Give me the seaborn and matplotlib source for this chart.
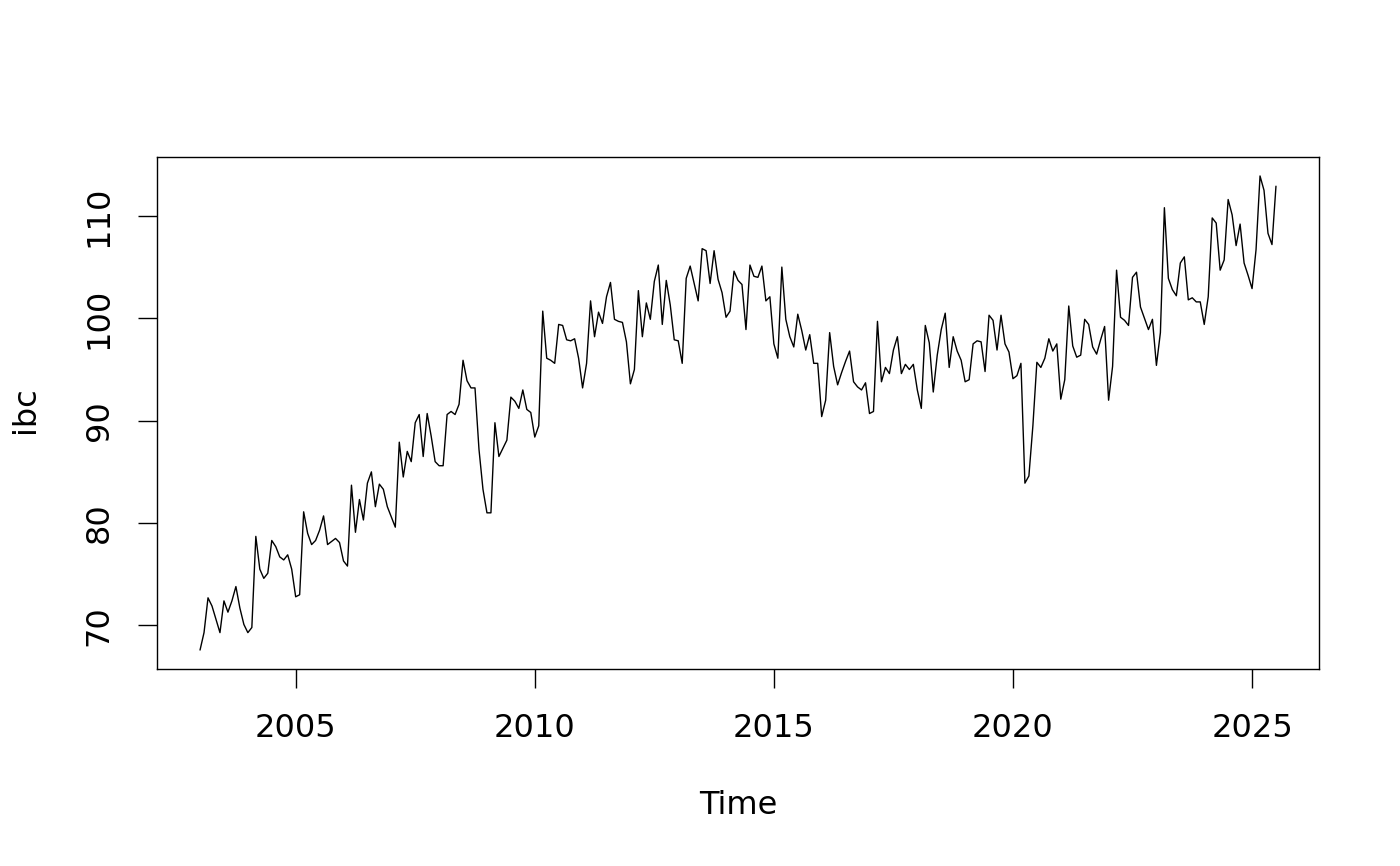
import matplotlib

matplotlib.use("Agg")

import matplotlib.pyplot as plt
import numpy as np
import pandas as pd
import seaborn as sns

# monthly series, starts Jan 2003
START_YEAR = 2003
FREQ = 12

ibc = [
    67.6, 69.3, 72.7, 71.9, 70.6, 69.3, 72.4, 71.3, 72.4, 73.8, 71.7, 70.1,
    69.3, 69.8, 78.7, 75.5, 74.6, 75.1, 78.3, 77.7, 76.7, 76.4, 76.9, 75.5,
    72.8, 73.0, 81.1, 79.0, 77.9, 78.3, 79.3, 80.7, 77.9, 78.2, 78.5, 78.1,
    76.3, 75.8, 83.7, 79.1, 82.3, 80.3, 83.9, 85.0, 81.6, 83.8, 83.3, 81.6,
    80.6, 79.6, 87.9, 84.5, 87.0, 86.0, 89.8, 90.6, 86.5, 90.7, 88.5, 86.0,
    85.6, 85.6, 90.6, 90.9, 90.6, 91.6, 95.9, 93.9, 93.2, 93.2, 87.2, 83.3,
    81.0, 81.0, 89.8, 86.5, 87.3, 88.1, 92.3, 91.9, 91.2, 93.0, 91.1, 90.8,
    88.4, 89.5, 100.7, 96.1, 95.9, 95.6, 99.4, 99.3, 97.9, 97.8, 98.0, 96.1,
    93.2, 95.6, 101.7, 98.2, 100.6, 99.5, 102.1, 103.5, 99.9, 99.7, 99.6, 97.7,
    93.6, 95.0, 102.7, 98.2, 101.5, 99.9, 103.6, 105.2, 99.4, 103.7, 101.3, 97.9,
    97.8, 95.6, 103.9, 105.1, 103.4, 101.7, 106.8, 106.6, 103.4, 106.6, 103.8, 102.5,
    100.1, 100.7, 104.6, 103.7, 103.3, 98.9, 105.2, 104.1, 104.0, 105.1, 101.7, 102.1,
    97.5, 96.1, 105.0, 99.9, 98.2, 97.2, 100.4, 98.8, 96.9, 98.4, 95.6, 95.6,
    90.4, 92.0, 98.6, 95.3, 93.5, 94.7, 95.8, 96.8, 93.8, 93.3, 93.0, 93.7,
    90.7, 90.9, 99.7, 93.8, 95.2, 94.6, 96.9, 98.2, 94.6, 95.5, 95.0, 95.5,
    93.0, 91.2, 99.3, 97.6, 92.8, 96.4, 98.9, 100.5, 95.2, 98.2, 96.8, 95.9,
    93.8, 94.0, 97.5, 97.8, 97.7, 94.8, 100.3, 99.8, 96.9, 100.3, 97.5, 96.7,
    94.1, 94.4, 95.6, 83.9, 84.6, 89.5, 95.7, 95.2, 96.1, 98.0, 96.8, 97.5,
    92.1, 94.0, 101.2, 97.3, 96.2, 96.4, 99.9, 99.4, 97.2, 96.5, 97.9, 99.2,
    92.0, 95.3, 104.7, 100.1, 99.8, 99.3, 104.0, 104.5, 101.1, 100.0, 98.9, 99.9,
    95.4, 98.6, 110.8, 103.9, 102.8, 102.2, 105.4, 106.0, 101.8, 102.0, 101.6, 101.6,
    99.4, 102.1, 109.8, 109.3, 104.7, 105.7, 111.6, 110.1, 107.1, 109.2, 105.4, 104.2,
    102.9, 106.7, 113.9, 112.5, 108.3, 107.2, 112.9,
]

x_ticks = [2005, 2010, 2015, 2020, 2025]
y_ticks = [70, 80, 90, 100, 110]


def main() -> None:
    sns.set_style("ticks")
    plt.rcParams["font.family"] = ["DejaVu Sans"]

    df = pd.DataFrame({"Time": START_YEAR + np.arange(len(ibc)) / FREQ, "ibc": ibc})

    fig = plt.figure(figsize=(14, 8.66), dpi=100)
    ax = fig.add_axes([157 / 1400, 1 - 669 / 866, 1162 / 1400, 512 / 866])
    sns.lineplot(data=df, x="Time", y="ibc", color="black", linewidth=1.0, ax=ax)

    ax.margins(x=0.04, y=0.04)
    ax.set_xticks(x_ticks)
    ax.set_yticks(y_ticks)
    ax.set_yticklabels([str(v) for v in y_ticks], rotation=90, va="center")

    for side in ["top", "right", "bottom", "left"]:
        ax.spines[side].set_visible(True)
        ax.spines[side].set_color("black")
        ax.spines[side].set_linewidth(1.0)
    ax.tick_params(axis="both", direction="out", length=13.5, width=1.0, color="black",
                   labelsize=23, labelcolor="black")
    ax.tick_params(axis="x", pad=18)
    ax.tick_params(axis="y", pad=17)
    ax.grid(False)

    ax.set_xlabel("Time", fontsize=23, color="black")
    ax.set_ylabel("ibc", fontsize=23, color="black")
    ax.xaxis.set_label_coords(581 / 1162, -136 / 512)
    ax.xaxis.label.set_va("center")
    ax.yaxis.set_label_coords(-132 / 1162, 259 / 512)
    ax.yaxis.label.set_va("center")

    fig.savefig("out.png", dpi=100, facecolor="white")
    plt.close(fig)


if __name__ == "__main__":
    main()
